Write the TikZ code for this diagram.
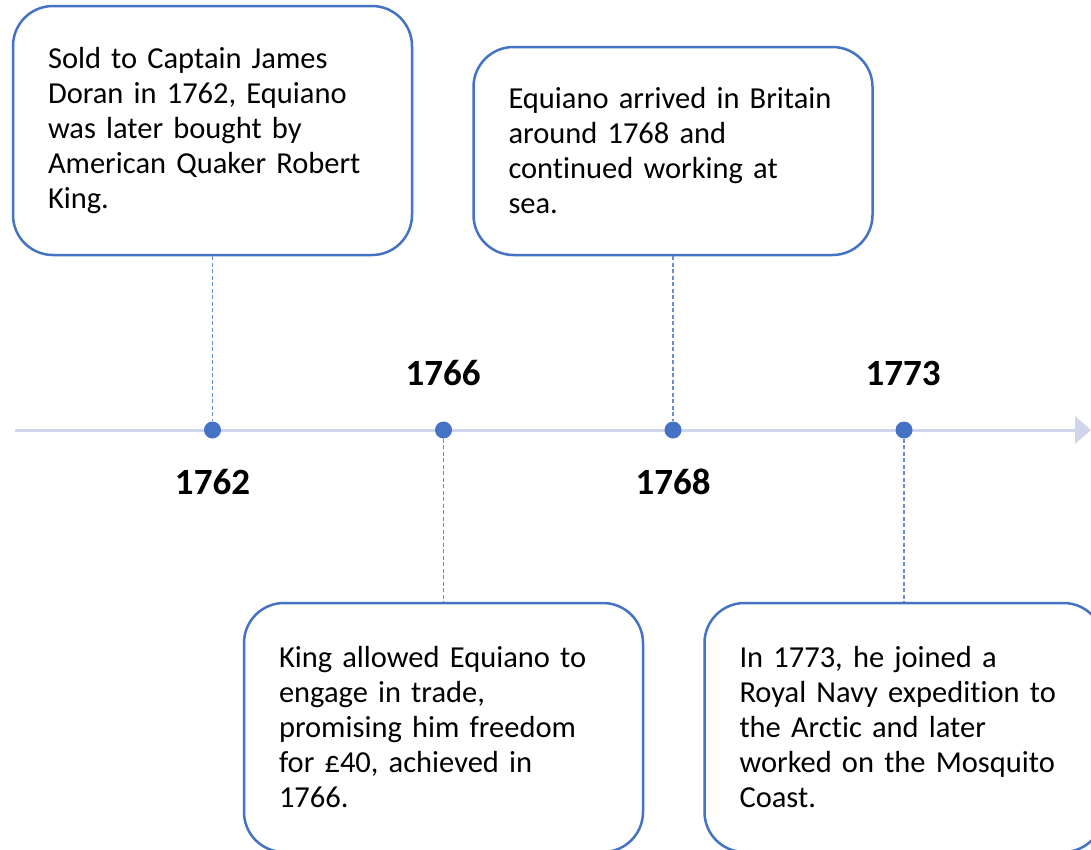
\documentclass[tikz,border=0pt]{standalone}
\usepackage{fontspec}
\setmainfont{Carlito}[RawFeature=-liga]
\usetikzlibrary{arrows.meta}
\definecolor{accent}{HTML}{4472C4}
\definecolor{axisline}{HTML}{CFD6EC}
\tikzset{
  eventbox/.style={draw=accent, line width=2.5pt, rounded corners=40pt, fill=white,
    text width=329pt, inner xsep=35pt, inner ysep=0pt, align=left,
    font=\fontsize{30.5}{35}\selectfont},
  yearlabel/.style={font=\fontsize{37}{40}\selectfont\bfseries, anchor=base, inner sep=0pt},
  tick/.style={circle, fill=accent, minimum size=17pt, inner sep=0pt},
  leader/.style={draw=accent!80, line width=1.4pt, dash pattern=on 4pt off 2.5pt},
  axis/.style={draw=axisline, line width=3pt, -{Triangle[width=27pt,length=16pt]}}
}
\begin{document}
\begin{tikzpicture}[x=1pt,y=-1pt]
\useasboundingbox (0,0) rectangle (1091,849);
\fill[white] (0,0) rectangle (1091,849);
\clip (0,0) rectangle (1091,849);
% timeline axis
\coordinate (axstart) at (15,430);
\coordinate (axend) at (1091,430);
\draw[axis] (axstart) -- (axend);
% boxes
\node[eventbox, minimum height=249pt] (b1) at (212.5,130.5)
  {Sold to Captain James\\Doran in 1762, Equiano\\was later bought by\\American Quaker Robert\\King.};
\node[eventbox, minimum height=208pt] (b2) at (673,151)
  {Equiano arrived in Britain\\around 1768 and\\continued working at\\sea.};
\node[eventbox, minimum height=249pt] (b3) at (443.5,727.5)
  {King allowed Equiano to\\engage in trade,\\promising him freedom\\for £40, achieved in\\1766.};
\node[eventbox, minimum height=249pt] (b4) at (904,727.5)
  {In 1773, he joined a\\Royal Navy expedition to\\the Arctic and later\\worked on the Mosquito\\Coast.};
% dots
\node[tick] (d1) at (212.5,430) {};
\node[tick] (d2) at (443.5,430) {};
\node[tick] (d3) at (673,430) {};
\node[tick] (d4) at (904,430) {};
% leaders
\draw[leader] (b1.south) -- (d1.north);
\draw[leader] (b2.south) -- (d3.north);
\draw[leader] (d2.south) -- (b3.north);
\draw[leader] (d4.south) -- (b4.north);
% years
\node[yearlabel] (y1) at (212.5,494) {1762};
\node[yearlabel] (y2) at (443,385) {1766};
\node[yearlabel] (y3) at (673,494) {1768};
\node[yearlabel] (y4) at (903,385) {1773};
\end{tikzpicture}
\end{document}
